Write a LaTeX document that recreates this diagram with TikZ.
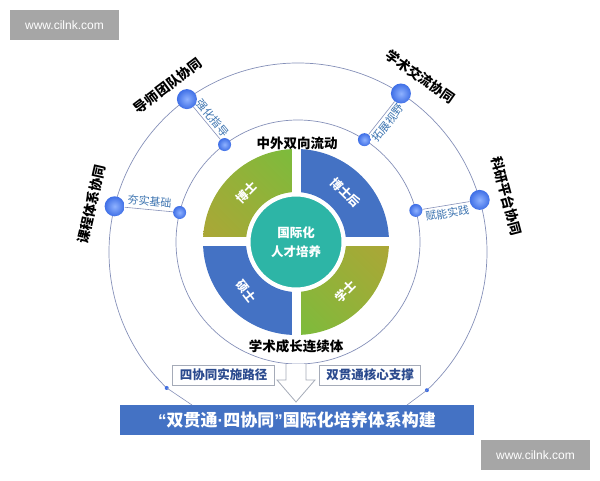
\documentclass[tikz,border=0pt]{standalone}
\usepackage{fontspec}
\setmainfont{Noto Sans CJK SC}
\newfontfamily\urlfont{Liberation Sans}
\usepackage{xcolor}
\usetikzlibrary{arrows.meta,calc,positioning,shadings}
\definecolor{chartblue}{HTML}{4472C4}
\definecolor{chartolive}{HTML}{ACA636}
\definecolor{chartgreen}{HTML}{7BBC3C}
\definecolor{chartteal}{HTML}{2DB5A6}
\definecolor{dotblue}{HTML}{3F6FE6}
\definecolor{dotlight}{HTML}{8FB2FF}
\definecolor{ringgray}{HTML}{8590B8}
\definecolor{tagblue}{HTML}{3D74B0}
\definecolor{boxnavy}{HTML}{2B4A8E}
\definecolor{boxgray}{HTML}{A5ABB8}
\definecolor{markgray}{HTML}{A6A6A6}
\newcommand{\latinmark}[1]{{\urlfont\bfseries #1}}
\tikzset{
  ring/.style={draw=ringgray,line width=0.7pt},
  spoke/.style={draw=ringgray,line width=0.6pt},
  bigdot/.style={circle,inner sep=0pt,minimum size=20pt,inner color=dotlight,outer color=dotblue},
  smalldot/.style={circle,inner sep=0pt,minimum size=13pt,inner color=dotlight,outer color=dotblue},
  tinydot/.style={circle,inner sep=0pt,minimum size=4pt,fill=dotblue},
  outerlabel/.style={font=\fontsize{13.5}{15}\selectfont\bfseries,text=black},
  spokelabel/.style={font=\fontsize{11}{13}\selectfont,text=tagblue,inner sep=2.5pt},
  quadlabel/.style={font=\fontsize{12}{14}\selectfont\bfseries,text=white},
  pathbox/.style={draw=boxgray,fill=white,line width=0.8pt,font=\fontsize{12.5}{14}\selectfont\bfseries,text=boxnavy,minimum height=20pt,inner xsep=7pt},
  watermark/.style={fill=markgray,text=white,font=\urlfont\fontsize{12}{14}\selectfont,minimum width=109pt,minimum height=30pt}
}
\begin{document}
\begin{tikzpicture}[x=1pt,y=1pt]
  \useasboundingbox (0,0) rectangle (600,480);
  \coordinate (core) at (296,238);
  \coordinate (mid) at (298,238);
  \coordinate (outer) at (298,228);

  \shade[upper left=chartolive!55!chartgreen,upper right=chartgreen,lower left=chartolive,lower right=chartolive!55!chartgreen]
    ($(core)+(180:93)$) arc (180:90:93) -- ($(core)+(90:50)$) arc (90:180:50) -- cycle;
  \fill[chartblue] ($(core)+(90:93)$) arc (90:0:93) -- ($(core)+(0:50)$) arc (0:90:50) -- cycle;
  \fill[chartblue] ($(core)+(270:93)$) arc (270:180:93) -- ($(core)+(180:50)$) arc (180:270:50) -- cycle;
  \shade[upper left=chartolive!55!chartgreen,upper right=chartolive,lower left=chartgreen,lower right=chartolive!55!chartgreen]
    ($(core)+(0:93)$) arc (0:-90:93) -- ($(core)+(-90:50)$) arc (-90:0:50) -- cycle;
  \draw[white,line width=9pt] ($(core)+(-96,0)$) -- ($(core)+(96,0)$);
  \draw[white,line width=9pt] ($(core)+(0,-96)$) -- ($(core)+(0,96)$);
  \node[circle,fill=chartteal,draw=white,line width=3pt,minimum size=94pt,align=center,
        font=\fontsize{12.5}{19}\selectfont\bfseries,text=white] (hub) at (core) {国际化\\人才培养};
  \node[quadlabel,rotate=45] (phd) at ($(core)+(135:70)$) {博士};
  \node[quadlabel,rotate=-45] (postdoc) at ($(core)+(45:70)$) {博士后};
  \node[quadlabel,rotate=-52] (master) at ($(core)+(225:70)$) {硕士};
  \node[quadlabel,rotate=45] (bachelor) at ($(core)+(315:70)$) {学士};

  \draw[ring] (mid) circle (122);
  \draw[ring] ($(outer)+(-47:189)$) arc (-47:226:189);

  \node[smalldot] (tutorhub) at ($(mid)+(127:122)$) {};
  \node[smalldot] (coursehub) at ($(mid)+(166:122)$) {};
  \node[smalldot] (exchangehub) at ($(mid)+(57:122)$) {};
  \node[smalldot] (researchhub) at ($(mid)+(15:122)$) {};
  \node[bigdot] (tutor) at ($(outer)+(126:189)$) {};
  \node[bigdot] (course) at ($(outer)+(166:189)$) {};
  \node[bigdot] (exchange) at ($(outer)+(57:189)$) {};
  \node[bigdot] (research) at ($(outer)+(16:189)$) {};

  \draw[spoke] (tutor) -- (tutorhub) node[midway,sloped,above,spokelabel] {强化指导};
  \draw[spoke] (course) -- (coursehub) node[midway,sloped,above,spokelabel] {夯实基础};
  \draw[spoke] (exchangehub) -- (exchange) node[midway,sloped,below,spokelabel] {拓展视野};
  \draw[spoke] (researchhub) -- (research) node[midway,sloped,below,spokelabel] {赋能实践};

  \node[outerlabel,rotate=37] (tutortag) at ($(outer)+(128:211)$) {导师团队协同};
  \node[outerlabel,rotate=77] (coursetag) at ($(outer)+(167:212)$) {课程体系协同};
  \node[outerlabel,rotate=-35] (exchangetag) at ($(outer)+(55:214)$) {学术交流协同};
  \node[outerlabel,rotate=-75] (researchtag) at ($(outer)+(15:216)$) {科研平台协同};

  \node[outerlabel] (flowtitle) at (297,337) {中外双向流动};
  \node[outerlabel] (growtitle) at (296,134) {学术成长连续体};

  \node[fill=chartblue,minimum width=354pt,minimum height=30pt,text=white,
        font=\fontsize{17}{18}\selectfont\bfseries] (banner) at (297,60)
        {\latinmark{“}双贯通\latinmark{·}四协同\latinmark{”}国际化培养体系构建};
  \node[tinydot] (lefttail) at ($(outer)+(226:189)$) {};
  \node[tinydot] (righttail) at ($(outer)+(-47:189)$) {};
  \coordinate (leftfoot) at (192,75);
  \coordinate (rightfoot) at (407,75);
  \draw[spoke] (lefttail.center) -- (leftfoot);
  \draw[spoke] (righttail.center) -- (rightfoot);

  \node[pathbox] (routebox) at (223.5,105) {四协同实施路径};
  \node[pathbox] (corebox) at (370,105) {双贯通核心支撑};
  \draw[draw=boxgray,fill=white,line width=0.8pt] (286,116) -- (286,100) -- (277,100) -- (296,78)
    -- (315,100) -- (306,100) -- (306,116);

  \node[watermark] (marktop) at (64.5,455) {www.cilnk.com};
  \node[watermark] (markbottom) at (535.5,25) {www.cilnk.com};
\end{tikzpicture}
\end{document}
